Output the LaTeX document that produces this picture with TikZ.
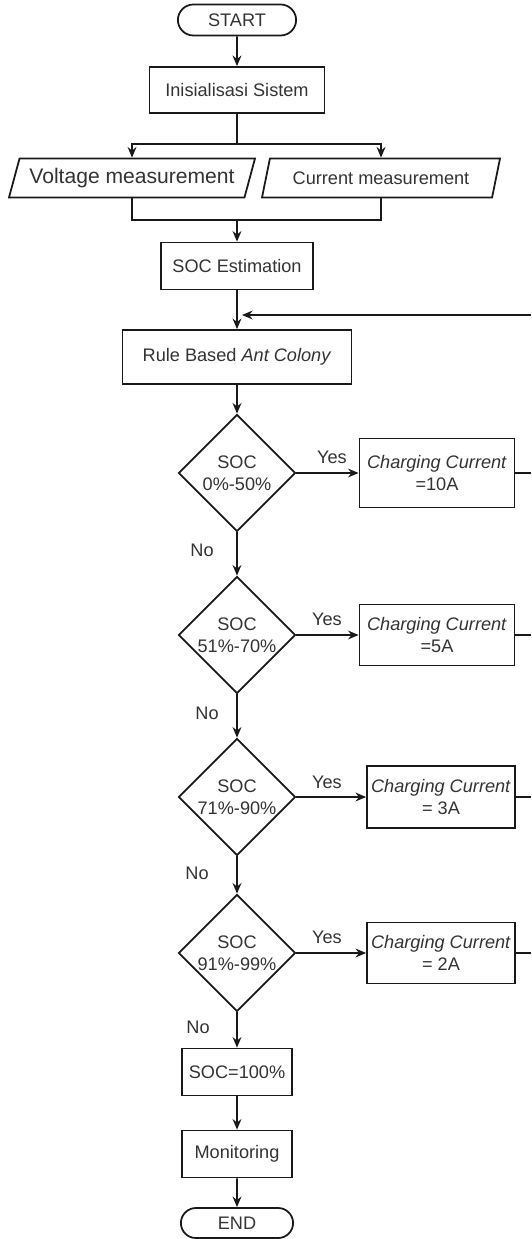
\documentclass[tikz,border=0pt]{standalone}
\usepackage{fontspec}
\setmainfont{Liberation Sans}
\usepackage{xcolor}
\usepackage{tikz}
\usetikzlibrary{arrows.meta}
\usetikzlibrary{backgrounds}
\usetikzlibrary{shapes,shapes.geometric,shapes.misc}
\pgfdeclarelayer{edgelayer}
\pgfdeclarelayer{nodelayer}
\pgfsetlayers{background,edgelayer,nodelayer,main}
\definecolor{ink}{rgb}{0.2,0.2,0.2}
\newcommand{\flowfont}{\fontsize{15.5pt}{19pt}\selectfont}
\newcommand{\bigflowfont}{\fontsize{18pt}{21pt}\selectfont}
\tikzstyle{none}=[inner sep=0mm]
\tikzstyle{flow}=[line width=1.5pt,draw=black!90]
\tikzstyle{diredge}=[flow,-{Stealth[length=9pt,width=7.5pt]}]
\tikzstyle{terminal}=[flow,shape=rounded rectangle,text=ink,font=\flowfont,minimum height=0.93cm]
\tikzstyle{process}=[flow,shape=rectangle,align=center,text=ink,font=\flowfont,inner sep=0pt]
\tikzstyle{io}=[flow,shape=trapezium,trapezium left angle=69,trapezium right angle=111,trapezium stretches body,minimum height=1.17cm,inner xsep=0pt,text=ink,font=\flowfont]
\tikzstyle{decision}=[flow,shape=diamond,minimum width=3.51cm,minimum height=3.51cm,inner sep=0pt,align=center,text=ink,font=\flowfont]
\tikzstyle{flowlabel}=[inner sep=0pt,text=ink,font=\flowfont]

\begin{document}
\begin{tikzpicture}[x=0.03cm,y=-0.03cm]
	\useasboundingbox (0,0) rectangle (531,1239);
	\begin{pgfonlayer}{nodelayer}
		\node [style=terminal, minimum width=3.78cm] (start) at (237, 20) {START};
		\node [style=process, minimum width=5.25cm, minimum height=1.38cm] (init) at (237, 90) {Inisialisasi Sistem};
		\node [style=io, minimum width=7.38cm, font=\bigflowfont] (volt) at (132, 178) {Voltage measurement};
		\node [style=io, minimum width=7.14cm] (curr) at (381, 178) {Current measurement};
		\node [style=process, minimum width=4.56cm, minimum height=1.41cm] (est) at (237, 266) {SOC Estimation};
		\node [style=process, minimum width=6.87cm, minimum height=1.62cm] (rule) at (237, 357) {Rule Based \textit{Ant Colony}};
		\node [style=decision] (d1) at (237, 473) {SOC\\0\%-50\%};
		\node [style=process, minimum width=4.65cm, minimum height=2.07cm] (c1) at (437, 473) {\textit{Charging Current}\\=10A};
		\node [style=decision] (d2) at (237, 635) {SOC\\51\%-70\%};
		\node [style=process, minimum width=4.65cm, minimum height=1.83cm] (c2) at (437, 635) {\textit{Charging Current}\\=5A};
		\node [style=decision] (d3) at (237, 797) {SOC\\71\%-90\%};
		\node [style=process, minimum width=4.44cm, minimum height=1.86cm] (c3) at (441, 797) {\textit{Charging Current}\\= 3A};
		\node [style=decision] (d4) at (237, 953) {SOC\\91\%-99\%};
		\node [style=process, minimum width=4.44cm, minimum height=1.83cm] (c4) at (441, 953) {\textit{Charging Current}\\= 2A};
		\node [style=process, minimum width=3.3cm, minimum height=1.41cm] (full) at (237, 1072) {SOC=100\%};
		\node [style=process, minimum width=3.3cm, minimum height=1.41cm] (mon) at (237, 1154) {Monitoring};
		\node [style=terminal, minimum width=3.6cm, minimum height=0.9cm] (end) at (237, 1223) {END};
		\node [style=flowlabel] (yes1) at (332, 457) {Yes};
		\node [style=flowlabel] (yes2) at (327, 619) {Yes};
		\node [style=flowlabel] (yes3) at (327, 782) {Yes};
		\node [style=flowlabel] (yes4) at (327, 937) {Yes};
		\node [style=flowlabel] (no1) at (202, 550) {No};
		\node [style=flowlabel] (no2) at (207, 713) {No};
		\node [style=flowlabel] (no3) at (197, 873) {No};
		\node [style=flowlabel] (no4) at (198, 1027) {No};
		\coordinate (split) at (237, 144);
		\coordinate (join) at (237, 220);
		\coordinate (back) at (531, 315);
		\coordinate (backin) at (242, 315);
		\coordinate (r1) at (531, 473);
		\coordinate (r2) at (531, 635);
		\coordinate (r3) at (531, 797);
		\coordinate (r4) at (531, 953);
	\end{pgfonlayer}
	\begin{pgfonlayer}{edgelayer}
		\draw [style=diredge] (start) to (init);
		\draw [style=flow] (init) to (split);
		\draw [style=diredge] (split) -| (volt.north);
		\draw [style=diredge] (split) -| (curr.north);
		\draw [style=flow] (volt.south) |- (join);
		\draw [style=flow] (curr.south) |- (join);
		\draw [style=diredge] (join) to (est);
		\draw [style=diredge] (est) to (rule);
		\draw [style=diredge] (back) to (backin);
		\draw [style=diredge] (rule) to (d1);
		\draw [style=diredge] (d1) to (c1);
		\draw [style=diredge] (d2) to (c2);
		\draw [style=diredge] (d3) to (c3);
		\draw [style=diredge] (d4) to (c4);
		\draw [style=flow] (c1) to (r1);
		\draw [style=flow] (c2) to (r2);
		\draw [style=flow] (c3) to (r3);
		\draw [style=flow] (c4) to (r4);
		\draw [style=diredge] (d1) to (d2);
		\draw [style=diredge] (d2) to (d3);
		\draw [style=diredge] (d3) to (d4);
		\draw [style=diredge] (d4) to (full);
		\draw [style=diredge] (full) to (mon);
		\draw [style=diredge] (mon) to (end);
	\end{pgfonlayer}
\end{tikzpicture}
\end{document}
